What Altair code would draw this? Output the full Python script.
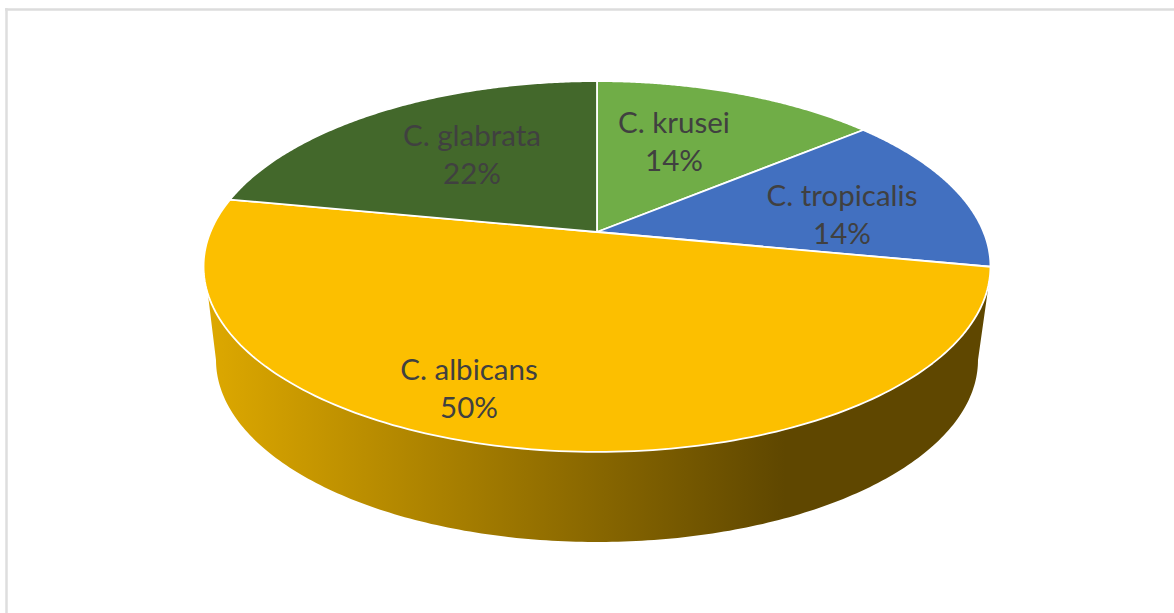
import numpy as np
import pandas as pd
import altair as alt

# Species shares, clockwise from twelve o'clock
species = ["C. krusei", "C. tropicalis", "C. albicans", "C. glabrata"]
shares = [14, 14, 50, 22]
colors = ["#70AD47", "#4270C0", "#FCBF00", "#43682B"]
label_anchors = [(674, 124), (842, 197), (469, 371), (472, 137)]

W, H = 1174, 613
CX, CY = 597.0, 232.0          # where the slices meet on screen
TILT, RX, RY = 0.186, 386.6, 179.0   # perspective of the top disc
# ellipse of the disc's lower edge
BASE_CY, BASE_RX, BASE_RY = 360.0, 381.0, 182.0


def rim(turn):
    """Screen position of a point on the disc edge; turn is a fraction clockwise from the top."""
    a = 2 * np.pi * np.asarray(turn, dtype=float)
    depth = np.cos(a)
    d = 1 + TILT * depth
    return CX + RX * np.sin(a) / d, CY - RY * depth / d


def path_frame(xs, ys):
    return pd.DataFrame({"x": xs, "y": ys, "i": np.arange(len(xs))})


X = alt.X("x:Q", scale=alt.Scale(domain=[0, W], nice=False, zero=False), axis=None)
Y = alt.Y("y:Q", scale=alt.Scale(domain=[H, 0], nice=False, zero=False), axis=None)


def shape(df, **mark):
    return alt.Chart(df).mark_line(interpolate="linear", strokeJoin="round", **mark).encode(
        x=X, y=Y, order=alt.Order("i:Q")
    )


layers = []

# Side wall: along the rim from right shoulder to left shoulder, then back round the base
top_x, top_y = rim(np.linspace(0.2935, 0.7255, 200))
base_t = np.linspace(np.pi, 0, 200)
base_x = CX + BASE_RX * np.cos(base_t)
base_y = BASE_CY + BASE_RY * np.sin(base_t)
wall_x = np.concatenate([top_x, base_x, top_x[:1]])
wall_y = np.concatenate([top_y, base_y, top_y[:1]])
wall_fill = alt.Gradient(
    gradient="linear", x1=0, x2=1, y1=0, y2=0,
    stops=[
        alt.GradientStop(color="#DEA900", offset=0),
        alt.GradientStop(color="#5F4700", offset=0.74),
        alt.GradientStop(color="#5F4700", offset=1),
    ],
)
layers.append(shape(path_frame(wall_x, wall_y), fill=wall_fill, stroke=None, strokeWidth=0))

# Top face, one wedge per species
edges = np.concatenate([[0], np.cumsum(shares)]) / sum(shares)
for k, name in enumerate(species):
    rx, ry = rim(np.linspace(edges[k], edges[k + 1], 160))
    xs = np.concatenate([[CX], rx, [CX]])
    ys = np.concatenate([[CY], ry, [CY]])
    layers.append(shape(path_frame(xs, ys), fill=colors[k], stroke="white", strokeWidth=1.8))

# Two-line slice labels
rows = []
for name, share, (ax, ay) in zip(species, shares, label_anchors):
    rows.append({"x": ax, "y": ay, "t": name})
    rows.append({"x": ax, "y": ay + 38, "t": f"{share}%"})
layers.append(
    alt.Chart(pd.DataFrame(rows))
    .mark_text(font="Lato", fontSize=29.5, color="#404040", align="center", baseline="middle")
    .encode(x=X, y=Y, text="t:N")
)

# Frame of the chart area, cut off by the right and bottom edges
frame = pd.DataFrame({"x": [5.0, W], "y": [9.5, 9.5], "i": [0, 1]})
layers.append(shape(frame, stroke="#DCDCDC", strokeWidth=2.5))
frame_left = pd.DataFrame({"x": [6.5, 6.5], "y": [8.0, H], "i": [0, 1]})
layers.append(shape(frame_left, stroke="#DEDEDE", strokeWidth=2.5))

chart = (
    alt.layer(*layers)
    .properties(width=W, height=H, padding=0, autosize=alt.AutoSizeParams(type="none"), background="white")
    .configure_view(stroke=None)
)

chart.save("out.html", embed_options={"renderer": "svg", "actions": False})
